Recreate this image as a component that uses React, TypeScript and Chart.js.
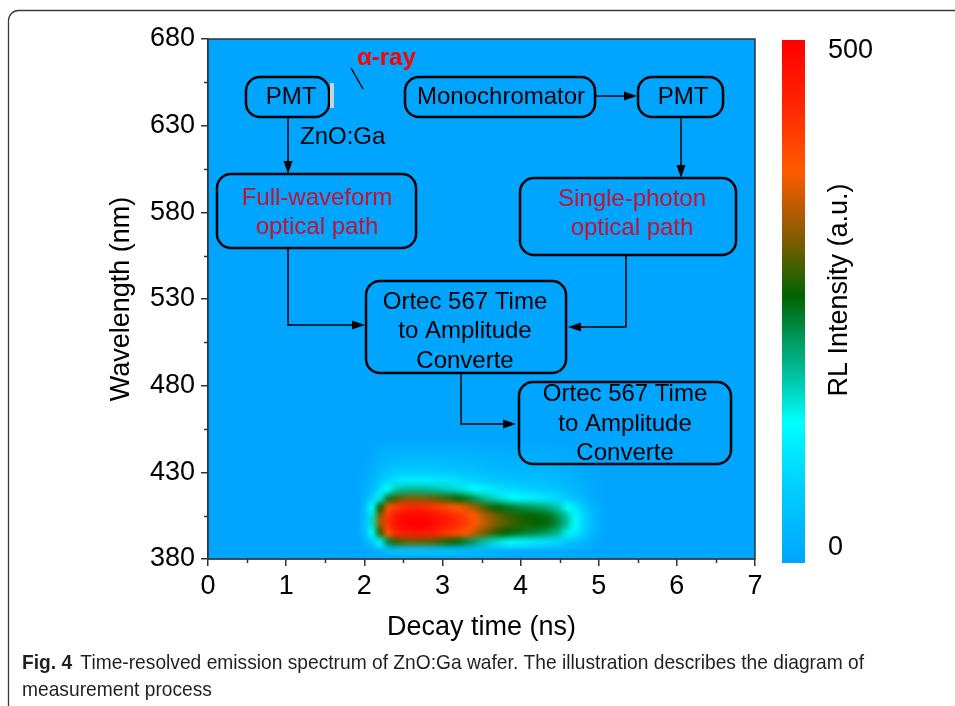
import { useEffect, useRef } from "react";
import { Chart, registerables } from "chart.js";

Chart.register(...registerables);

// ---------------- data ----------------
const decayTimes = [
  1.9, 2.0, 2.1, 2.2, 2.3, 2.4, 2.5, 2.6, 2.7, 2.8, 2.9, 3.0, 3.1, 3.2, 3.3, 3.4, 3.5,
  3.6, 3.7, 3.8, 3.9, 4.0, 4.1, 4.2, 4.3, 4.4, 4.5, 4.6, 4.7, 4.8, 4.9, 5.0, 5.1,
];
const wavelengths = [380, 385, 390, 395, 400, 405, 410, 415, 420, 425, 430, 435, 440, 445, 450];
// RL intensity (a.u.), one row per wavelength (ascending), one column per decay time
const rlIntensity: number[][] = [
  [0, 0, 0, 0, 0, 0, 0, 0, 0, 0, 0, 0, 0, 0, 0, 0, 0, 0, 0, 0, 0, 0, 0, 0, 0, 0, 0, 0, 0, 0, 0, 0, 0],
  [0, 3, 12, 26, 40, 47, 49, 50, 50, 50, 48, 46, 45, 43, 40, 37, 33, 30, 27, 25, 23, 21, 20, 19, 18, 17, 15, 12, 9, 6, 3, 1, 0],
  [0, 18, 60, 140, 225, 278, 294, 300, 300, 297, 288, 277, 265, 250, 232, 212, 188, 170, 155, 143, 133, 124, 116, 108, 100, 92, 80, 64, 48, 32, 17, 6, 0],
  [0, 35, 140, 275, 380, 430, 451, 460, 460, 455, 442, 425, 408, 390, 370, 345, 312, 288, 270, 256, 246, 236, 228, 220, 212, 200, 178, 145, 108, 70, 37, 13, 0],
  [0, 40, 160, 320, 420, 470, 490, 500, 500, 495, 480, 462, 445, 428, 410, 385, 350, 325, 305, 290, 280, 270, 263, 258, 252, 240, 215, 175, 130, 85, 45, 15, 0],
  [0, 39, 157, 314, 412, 461, 480, 490, 490, 485, 470, 453, 436, 419, 402, 377, 343, 319, 299, 284, 274, 265, 258, 253, 247, 235, 211, 172, 127, 83, 44, 15, 0],
  [0, 33, 130, 260, 360, 408, 426, 435, 435, 431, 418, 402, 386, 370, 350, 325, 295, 272, 255, 242, 232, 222, 214, 206, 198, 186, 165, 135, 100, 66, 35, 12, 0],
  [0, 20, 70, 150, 235, 285, 304, 310, 310, 307, 298, 286, 272, 258, 240, 220, 195, 175, 160, 148, 138, 128, 120, 112, 104, 95, 82, 66, 50, 34, 18, 6, 0],
  [0, 12, 45, 90, 140, 172, 186, 190, 190, 188, 182, 176, 168, 160, 150, 138, 122, 110, 100, 92, 86, 80, 75, 70, 66, 60, 52, 42, 31, 21, 11, 4, 0],
  [0, 8, 30, 60, 85, 100, 108, 110, 110, 109, 106, 102, 97, 92, 86, 80, 72, 66, 61, 57, 54, 51, 49, 47, 45, 42, 37, 30, 22, 15, 8, 3, 0],
  [0, 5, 20, 40, 56, 65, 69, 70, 70, 69, 67, 65, 62, 59, 56, 52, 47, 44, 41, 39, 37, 35, 34, 33, 32, 30, 27, 22, 16, 11, 6, 2, 0],
  [0, 3, 13, 27, 37, 42, 44, 45, 45, 45, 43, 42, 40, 38, 36, 34, 31, 28, 26, 25, 24, 23, 22, 21, 21, 20, 17, 14, 11, 7, 4, 1, 0],
  [0, 2, 9, 18, 25, 28, 29, 30, 30, 30, 29, 28, 27, 26, 24, 22, 20, 19, 17, 16, 16, 15, 15, 14, 14, 13, 12, 10, 7, 5, 3, 1, 0],
  [0, 1, 5, 10, 13, 14, 15, 15, 15, 15, 14, 14, 13, 13, 12, 12, 11, 10, 9, 9, 8, 8, 8, 8, 8, 7, 6, 5, 4, 3, 1, 0, 0],
  [0, 0, 0, 0, 0, 0, 0, 0, 0, 0, 0, 0, 0, 0, 0, 0, 0, 0, 0, 0, 0, 0, 0, 0, 0, 0, 0, 0, 0, 0, 0, 0, 0],
];
const xTicks = [0, 1, 2, 3, 4, 5, 6, 7];
const xMinorTicks = [0.5, 1.5, 2.5, 3.5, 4.5, 5.5, 6.5];
const yTicks = [380, 430, 480, 530, 580, 630, 680];
const yMinorTicks = [405, 455, 505, 555, 605, 655];
const colorbarTicks = [0, 500];
const intensityMin = 0;
const intensityMax = 500;

const xTitle = "Decay time (ns)";
const yTitle = "Wavelength (nm)";
const colorbarTitle = "RL Intensity (a.u.)";
const captionLabel = "Fig. 4";
const captionLine1 = "Time-resolved emission spectrum of ZnO:Ga wafer. The illustration describes the diagram of";
const captionLine2 = "measurement process";

// ---------------- styles ----------------
const FONT = '"Liberation Sans", Arial, sans-serif';
const colorStops: [number, number[]][] = [
  [0.0, [0, 165, 255]],
  [0.14, [0, 205, 255]],
  [0.27, [0, 255, 255]],
  [0.34, [0, 205, 180]],
  [0.42, [0, 158, 100]],
  [0.51, [0, 100, 0]],
  [0.63, [140, 92, 0]],
  [0.75, [255, 90, 0]],
  [0.88, [255, 35, 0]],
  [1.0, [255, 0, 0]],
];
function colormap(f: number): number[] {
  const v = Math.max(0, Math.min(1, f));
  for (let i = 1; i < colorStops.length; i++) {
    const [p1, c1] = colorStops[i];
    const [p0, c0] = colorStops[i - 1];
    if (v <= p1) {
      const k = (v - p0) / (p1 - p0);
      return [0, 1, 2].map((j) => Math.round(c0[j] + (c1[j] - c0[j]) * k));
    }
  }
  return colorStops[colorStops.length - 1][1];
}
const rgb = (c: number[]) => `rgb(${c[0]},${c[1]},${c[2]})`;

// flowchart inset (positions in data units: decay time, wavelength)
const CRIMSON = "#c8102e";
const flowBoxes = [
  { t0: 0.486, t1: 1.549, l0: 635.0, l1: 658.1, tc: 1.062, lc: 646.5, lines: ["PMT"], color: "#000" },
  { t0: 2.521, t1: 4.953, l0: 635.0, l1: 658.1, tc: 3.75, lc: 646.5, lines: ["Monochromator"], color: "#000" },
  { t0: 5.503, t1: 6.591, l0: 635.0, l1: 658.1, tc: 6.079, lc: 646.5, lines: ["PMT"], color: "#000" },
  { t0: 0.115, t1: 2.662, l0: 559.4, l1: 602.1, tc: 1.395, lc: 579.6, lines: ["Full-waveform", "optical path"], color: CRIMSON },
  { t0: 3.993, t1: 6.757, l0: 555.4, l1: 599.8, tc: 5.426, lc: 579.0, lines: ["Single-photon", "optical path"], color: CRIMSON },
  { t0: 2.022, t1: 4.582, l0: 487.3, l1: 540.4, tc: 3.289, lc: 511.1, lines: ["Ortec 567 Time", "to Amplitude", "Converte"], color: "#000" },
  { t0: 3.98, t1: 6.693, l0: 434.8, l1: 482.1, tc: 5.337, lc: 457.9, lines: ["Ortec 567 Time", "to Amplitude", "Converte"], color: "#000" },
];
const flowArrows: number[][][] = [
  [[1.024, 635.0], [1.024, 602.1]],
  [[4.953, 647.1], [5.49, 647.1]],
  [[6.053, 635.0], [6.053, 599.8]],
  [[1.024, 559.4], [1.024, 515.0], [2.009, 515.0]],
  [[5.349, 555.4], [5.349, 513.8], [4.607, 513.8]],
  [[3.238, 487.3], [3.238, 457.9], [3.942, 457.9]],
];

const heatmapPlugin = {
  id: "heatmap",
  beforeDatasetsDraw(chart: any) {
    const { ctx, chartArea: a, scales } = chart;
    const x = scales.x, y = scales.y;
    ctx.save();
    ctx.beginPath();
    ctx.rect(a.left, a.top, a.right - a.left, a.bottom - a.top);
    ctx.clip();
    ctx.fillStyle = rgb(colormap(0));
    ctx.fillRect(a.left, a.top, a.right - a.left, a.bottom - a.top);
    const cols = decayTimes.length, rows = wavelengths.length;
    const off = document.createElement("canvas");
    off.width = cols;
    off.height = rows;
    const octx = off.getContext("2d")!;
    const img = octx.createImageData(cols, rows);
    for (let r = 0; r < rows; r++) {
      for (let c = 0; c < cols; c++) {
        const col = colormap((rlIntensity[r][c] - intensityMin) / (intensityMax - intensityMin));
        const idx = ((rows - 1 - r) * cols + c) * 4;
        img.data[idx] = col[0];
        img.data[idx + 1] = col[1];
        img.data[idx + 2] = col[2];
        img.data[idx + 3] = 255;
      }
    }
    octx.putImageData(img, 0, 0);
    const dt = decayTimes[1] - decayTimes[0];
    const dl = wavelengths[1] - wavelengths[0];
    const x0 = x.getPixelForValue(decayTimes[0] - dt / 2);
    const x1 = x.getPixelForValue(decayTimes[cols - 1] + dt / 2);
    const y0 = y.getPixelForValue(wavelengths[rows - 1] + dl / 2);
    const y1 = y.getPixelForValue(wavelengths[0] - dl / 2);
    ctx.imageSmoothingEnabled = true;
    (ctx as any).imageSmoothingQuality = "high";
    ctx.drawImage(off, x0, y0, x1 - x0, y1 - y0);
    ctx.restore();
  },
};

function roundRect(ctx: CanvasRenderingContext2D, x: number, y: number, w: number, h: number, r: number) {
  ctx.beginPath();
  ctx.moveTo(x + r, y);
  ctx.lineTo(x + w - r, y);
  ctx.arcTo(x + w, y, x + w, y + r, r);
  ctx.lineTo(x + w, y + h - r);
  ctx.arcTo(x + w, y + h, x + w - r, y + h, r);
  ctx.lineTo(x + r, y + h);
  ctx.arcTo(x, y + h, x, y + h - r, r);
  ctx.lineTo(x, y + r);
  ctx.arcTo(x, y, x + r, y, r);
  ctx.closePath();
}

const overlayPlugin = {
  id: "overlay",
  afterDraw(chart: any) {
    const { ctx, chartArea: a, scales } = chart;
    const x = scales.x, y = scales.y;
    const px = (t: number) => x.getPixelForValue(t);
    const py = (l: number) => y.getPixelForValue(l);
    ctx.save();

    // plot frame
    ctx.strokeStyle = "#333";
    ctx.lineWidth = 1.5;
    ctx.strokeRect(a.left, a.top, a.right - a.left, a.bottom - a.top);

    // minor ticks
    ctx.beginPath();
    xMinorTicks.forEach((t) => {
      const xx = Math.round(px(t)) + 0.5;
      ctx.moveTo(xx, a.bottom);
      ctx.lineTo(xx, a.bottom + 4);
    });
    yMinorTicks.forEach((l) => {
      const yy = Math.round(py(l)) + 0.5;
      ctx.moveTo(a.left, yy);
      ctx.lineTo(a.left - 4, yy);
    });
    ctx.stroke();

    // flowchart inset
    ctx.strokeStyle = "#000";
    ctx.lineWidth = 2.5;
    ctx.textAlign = "center";
    ctx.textBaseline = "middle";
    ctx.font = `24px ${FONT}`;
    flowBoxes.forEach((b) => {
      const bx = px(b.t0), by = py(b.l1);
      const bw = px(b.t1) - bx, bh = py(b.l0) - by;
      roundRect(ctx, bx, by, bw, bh, 14);
      ctx.stroke();
      ctx.fillStyle = b.color;
      const n = b.lines.length;
      const cy = py(b.lc);
      b.lines.forEach((s, i) => {
        ctx.fillText(s, px(b.tc), cy + (i - (n - 1) / 2) * 29.5);
      });
    });
    ctx.lineWidth = 1.5;
    ctx.fillStyle = "#000";
    flowArrows.forEach((pts) => {
      ctx.beginPath();
      const p = pts.map(([t, l]) => [px(t), py(l)]);
      const [ex, ey] = p[p.length - 1];
      const [sx, sy] = p[p.length - 2];
      const ang = Math.atan2(ey - sy, ex - sx);
      const L = 13, W = 4.5;
      p.forEach(([xx, yy], i) => {
        if (i === p.length - 1) {
          ctx.lineTo(xx - Math.cos(ang) * L, yy - Math.sin(ang) * L);
        } else if (i === 0) ctx.moveTo(xx, yy);
        else ctx.lineTo(xx, yy);
      });
      ctx.stroke();
      ctx.beginPath();
      ctx.moveTo(ex, ey);
      ctx.lineTo(ex - Math.cos(ang) * L - Math.sin(ang) * W, ey - Math.sin(ang) * L + Math.cos(ang) * W);
      ctx.lineTo(ex - Math.cos(ang) * L + Math.sin(ang) * W, ey - Math.sin(ang) * L - Math.cos(ang) * W);
      ctx.closePath();
      ctx.fill();
    });
    // sample bar next to PMT
    ctx.fillStyle = "#c9d3da";
    ctx.fillRect(px(1.561), py(654.6), px(1.612) - px(1.561), py(640.2) - py(654.6));
    // alpha-ray pointer
    ctx.beginPath();
    ctx.lineWidth = 1.3;
    ctx.moveTo(px(1.83), py(663.3));
    ctx.lineTo(px(1.983), py(651.2));
    ctx.stroke();
    ctx.textAlign = "left";
    ctx.fillStyle = "#000";
    ctx.font = `24px ${FONT}`;
    ctx.fillText("ZnO:Ga", px(1.177), py(623.5));
    ctx.fillStyle = "#ff0000";
    ctx.font = `bold 24px ${FONT}`;
    ctx.fillText("α-ray", px(1.907), py(669.0));

    // colorbar
    const cbL = a.right + 27, cbR = a.right + 50;
    const cbT = a.top + 1, cbB = a.bottom + 4;
    const g = ctx.createLinearGradient(0, cbB, 0, cbT);
    colorStops.forEach(([p, c]) => g.addColorStop(p, rgb(c)));
    ctx.fillStyle = g;
    ctx.fillRect(cbL, cbT, cbR - cbL, cbB - cbT);
    ctx.save();
    ctx.translate(a.right + 85, (a.top + a.bottom) / 2 - 9);
    ctx.rotate(-Math.PI / 2);
    ctx.textAlign = "center";
    ctx.textBaseline = "middle";
    ctx.fillStyle = "#000";
    ctx.font = `27px ${FONT}`;
    ctx.fillText(colorbarTitle, 0, 0);
    ctx.restore();

    // outer figure frame
    ctx.strokeStyle = "#3a3a3a";
    ctx.lineWidth = 1.3;
    ctx.beginPath();
    ctx.moveTo(8.5, 720);
    ctx.lineTo(8.5, 20.5);
    ctx.arcTo(8.5, 10.5, 18.5, 10.5, 10);
    ctx.lineTo(970, 10.5);
    ctx.stroke();

    // caption
    const cf = '"Liberation Sans Narrow", "Liberation Sans", Arial, sans-serif';
    ctx.fillStyle = "#231f20";
    ctx.textAlign = "left";
    ctx.textBaseline = "alphabetic";
    ctx.font = `bold 21px ${cf}`;
    const w1 = ctx.measureText(captionLabel).width;
    ctx.font = `21px ${cf}`;
    const w2 = ctx.measureText(captionLine1).width;
    const gap = 9;
    const s = 842 / (w1 + gap + w2);
    ctx.save();
    ctx.translate(22, 669);
    ctx.scale(s, 1);
    ctx.font = `bold 21px ${cf}`;
    ctx.fillText(captionLabel, 0, 0);
    ctx.font = `21px ${cf}`;
    ctx.fillText(captionLine1, w1 + gap, 0);
    ctx.fillText(captionLine2, 0, 27);
    ctx.restore();

    ctx.restore();
  },
};

const zeroPad = (s: any) => {
  s.paddingTop = 0;
  s.paddingBottom = 0;
  s.paddingLeft = 0;
  s.paddingRight = 0;
};

export default function App() {
  const ref = useRef<HTMLCanvasElement | null>(null);
  useEffect(() => {
    if (!ref.current) return;
    Chart.defaults.font.family = FONT;
    Chart.defaults.color = "#000";
    const points: { x: number; y: number }[] = [];
    wavelengths.forEach((l, r) => decayTimes.forEach((t, c) => points.push({ x: t, y: l, v: rlIntensity[r][c] } as any)));
    const chart = new Chart(ref.current, {
      type: "scatter",
      data: {
        datasets: [{ data: points, pointRadius: 0, pointHoverRadius: 0, showLine: false }],
      },
      options: {
        animation: false,
        responsive: false,
        events: [],
        layout: { padding: { left: 0, top: 39, right: 0, bottom: 0 } },
        plugins: { legend: { display: false }, tooltip: { enabled: false } },
        scales: {
          x: {
            type: "linear",
            min: 0,
            max: 7,
            afterBuildTicks: (s: any) => { s.ticks = xTicks.map((v) => ({ value: v })); },
            afterFit: (s: any) => { s.height = 706 - 559; zeroPad(s); },
            ticks: { font: { size: 27 }, padding: 4, maxRotation: 0, autoSkip: false },
            grid: { drawOnChartArea: false, tickLength: 7, color: "#333", lineWidth: 1.5 },
            border: { display: true, color: "#333", width: 1.5 },
            title: { display: true, text: xTitle, font: { size: 27 }, padding: { top: 0, bottom: 62 } },
          },
          y: {
            type: "linear",
            min: 380,
            max: 680,
            afterBuildTicks: (s: any) => { s.ticks = yTicks.map((v) => ({ value: v })); },
            afterFit: (s: any) => { s.width = 208; zeroPad(s); },
            ticks: { font: { size: 27 }, padding: 6, autoSkip: false },
            grid: { drawOnChartArea: false, tickLength: 7, color: "#333", lineWidth: 1.5 },
            border: { display: true, color: "#333", width: 1.5 },
            title: { display: true, text: yTitle, font: { size: 27 }, padding: { top: 105, bottom: 0 } },
          },
          cb: {
            type: "linear",
            position: "right",
            min: -12,
            max: 512,
            afterBuildTicks: (s: any) => { s.ticks = colorbarTicks.map((v) => ({ value: v })); },
            afterFit: (s: any) => { s.width = 200; zeroPad(s); },
            ticks: { font: { size: 27 }, padding: 65, autoSkip: false },
            grid: { display: false, drawOnChartArea: false },
            border: { display: false },
          },
        },
      },
      plugins: [heatmapPlugin, overlayPlugin],
    } as any);
    return () => chart.destroy();
  }, []);
  return (
    <div style={{ position: "absolute", left: 0, top: 0, width: 955, height: 706, background: "#fff" }}>
      <canvas ref={ref} width={955} height={706} />
    </div>
  );
}
